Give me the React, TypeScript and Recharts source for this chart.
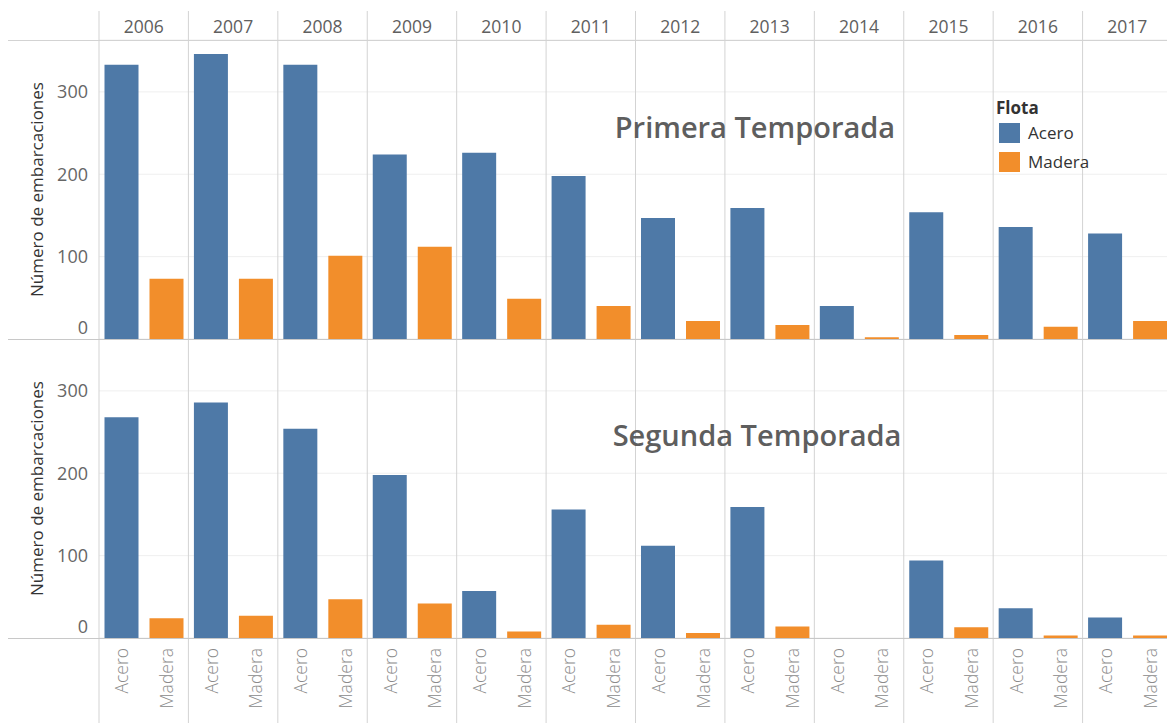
import { BarChart, Bar, XAxis, YAxis, CartesianGrid, Legend } from "recharts";

const YEARS = ["2006", "2007", "2008", "2009", "2010", "2011", "2012", "2013", "2014", "2015", "2016", "2017"];
const FLOTA = ["Acero", "Madera"];
const Y_TICKS = [0, 100, 200, 300];

const PRIMERA_ACERO = [333, 346, 333, 224, 226, 198, 147, 159, 40, 154, 136, 128];
const PRIMERA_MADERA = [73, 73, 101, 112, 49, 40, 22, 17, 2, 5, 15, 22];
const SEGUNDA_ACERO = [268, 286, 254, 198, 57, 156, 112, 159, 0, 94, 36, 25];
const SEGUNDA_MADERA = [24, 27, 47, 42, 8, 16, 6, 14, 0, 13, 3, 3];

const PLOT_LEFT = 99;
const PLOT_W = 1073;
const PLOT_H = 299;
const BAND = PLOT_W / 12;
const CHART_W = PLOT_LEFT + PLOT_W;
const HEADER_H = 40;
const FOOTER_H = 85;
const Y_MAX = 363;

const FONT = '"Open Sans", sans-serif';
const ACERO = "#4e79a7";
const MADERA = "#f28e2b";
const LINE = "#d3d3d3";
const GRID = "#efefef";

const rows = (acero: number[], madera: number[]) =>
  YEARS.map((year, i) => ({ year, Acero: acero[i], Madera: madera[i] }));

const primeraData = rows(PRIMERA_ACERO, PRIMERA_MADERA);
const segundaData = rows(SEGUNDA_ACERO, SEGUNDA_MADERA);

const YTick = ({ y, payload }: any) => (
  <text
    x={88}
    y={y}
    dy={payload.value === 0 ? -5 : 6.5}
    textAnchor="end"
    fontSize={18}
    fontFamily={FONT}
    fill="#666"
  >
    {payload.value}
  </text>
);

const YearTick = ({ x, payload }: any) => (
  <g>
    <line x1={x - BAND / 2} x2={x - BAND / 2} y1={11} y2={HEADER_H + PLOT_H} stroke={LINE} />
    <text x={x} y={33} textAnchor="middle" fontSize={17.5} fontFamily={FONT} fill="#606060">
      {payload.value}
    </text>
  </g>
);

const FlotaTick = ({ x }: any) => (
  <g>
    <line x1={x - BAND / 2} x2={x - BAND / 2} y1={0} y2={PLOT_H + FOOTER_H} stroke={LINE} />
    {FLOTA.map((f, i) => (
      <text
        key={f}
        transform={`translate(${x + (i === 0 ? -1 : 1) * (BAND / 4)}, ${PLOT_H + 10}) rotate(-90)`}
        textAnchor="end"
        dominantBaseline="central"
        fontSize={17.5}
        fontFamily={FONT}
        fontWeight={300}
        fill="#8a8a8a"
      >
        {f}
      </text>
    ))}
  </g>
);

const axisTitle = (cy: number) => ({
  content: () => (
    <text
      transform={`translate(43, ${cy}) rotate(-90)`}
      textAnchor="middle"
      fontSize={17}
      fontFamily={FONT}
      fill="#333"
    >
      Número de embarcaciones
    </text>
  ),
});

const renderLegend = ({ payload }: any) => (
  <div style={{ fontFamily: FONT, color: "#333", textAlign: "left" }}>
    <div style={{ fontWeight: 700, fontSize: 17, lineHeight: "20px" }}>Flota</div>
    {(payload || []).map((e: any) => (
      <div key={e.value} style={{ display: "flex", alignItems: "center", height: 29 }}>
        <span style={{ width: 21, height: 20, background: e.color, marginLeft: 3, marginRight: 8 }} />
        <span style={{ fontSize: 17 }}>{e.value}</span>
      </div>
    ))}
  </div>
);

export default function App() {
  return (
    <div
      style={{
        position: "absolute",
        left: 0,
        top: 0,
        width: 1167,
        height: 723,
        overflow: "hidden",
        background: "#fff",
      }}
    >
      <div style={{ position: "absolute", left: 0, top: 0 }}>
        <BarChart
          width={CHART_W}
          height={HEADER_H + PLOT_H}
          data={primeraData}
          margin={{ top: 0, right: 0, bottom: 0, left: 0 }}
          barCategoryGap={5.5}
          barGap={11}
        >
          <CartesianGrid vertical={false} stroke={GRID} />
          <XAxis
            dataKey="year"
            orientation="top"
            height={HEADER_H}
            axisLine={false}
            tickLine={false}
            tick={<YearTick />}
            interval={0}
          />
          <YAxis
            width={PLOT_LEFT}
            domain={[0, Y_MAX]}
            ticks={Y_TICKS}
            interval={0}
            axisLine={false}
            tickLine={false}
            tick={<YTick />}
            label={axisTitle(HEADER_H + PLOT_H / 2)}
          />
          <Bar dataKey="Acero" fill={ACERO} isAnimationActive={false} />
          <Bar dataKey="Madera" fill={MADERA} isAnimationActive={false} />
          <Legend
            layout="vertical"
            align="center"
            verticalAlign="middle"
            wrapperStyle={{ left: 996, top: 98, width: 130 }}
            content={renderLegend}
          />
        </BarChart>
      </div>
      <div style={{ position: "absolute", left: 0, top: HEADER_H + PLOT_H }}>
        <BarChart
          width={CHART_W}
          height={PLOT_H + FOOTER_H}
          data={segundaData}
          margin={{ top: 0, right: 0, bottom: 0, left: 0 }}
          barCategoryGap={5.5}
          barGap={11}
        >
          <CartesianGrid vertical={false} stroke={GRID} />
          <XAxis
            dataKey="year"
            height={FOOTER_H}
            axisLine={false}
            tickLine={false}
            tick={<FlotaTick />}
            interval={0}
          />
          <YAxis
            width={PLOT_LEFT}
            domain={[0, Y_MAX]}
            ticks={Y_TICKS}
            interval={0}
            axisLine={false}
            tickLine={false}
            tick={<YTick />}
            label={axisTitle(PLOT_H / 2)}
          />
          <Bar dataKey="Acero" fill={ACERO} isAnimationActive={false} />
          <Bar dataKey="Madera" fill={MADERA} isAnimationActive={false} />
        </BarChart>
      </div>
      <svg
        width={1167}
        height={723}
        style={{ position: "absolute", left: 0, top: 0, pointerEvents: "none" }}
      >
        <line x1={8} x2={1167} y1={40.5} y2={40.5} stroke={LINE} />
        <line x1={8} x2={1167} y1={339.5} y2={339.5} stroke="#c8c8c8" />
        <line x1={8} x2={1167} y1={638.5} y2={638.5} stroke="#c8c8c8" />
        <text x={755} y={138} textAnchor="middle" fontSize={29} fontWeight={600} fontFamily={FONT} fill="#5e5e5e">
          Primera Temporada
        </text>
        <text x={757} y={446} textAnchor="middle" fontSize={29} fontWeight={600} fontFamily={FONT} fill="#5e5e5e">
          Segunda Temporada
        </text>
      </svg>
    </div>
  );
}
